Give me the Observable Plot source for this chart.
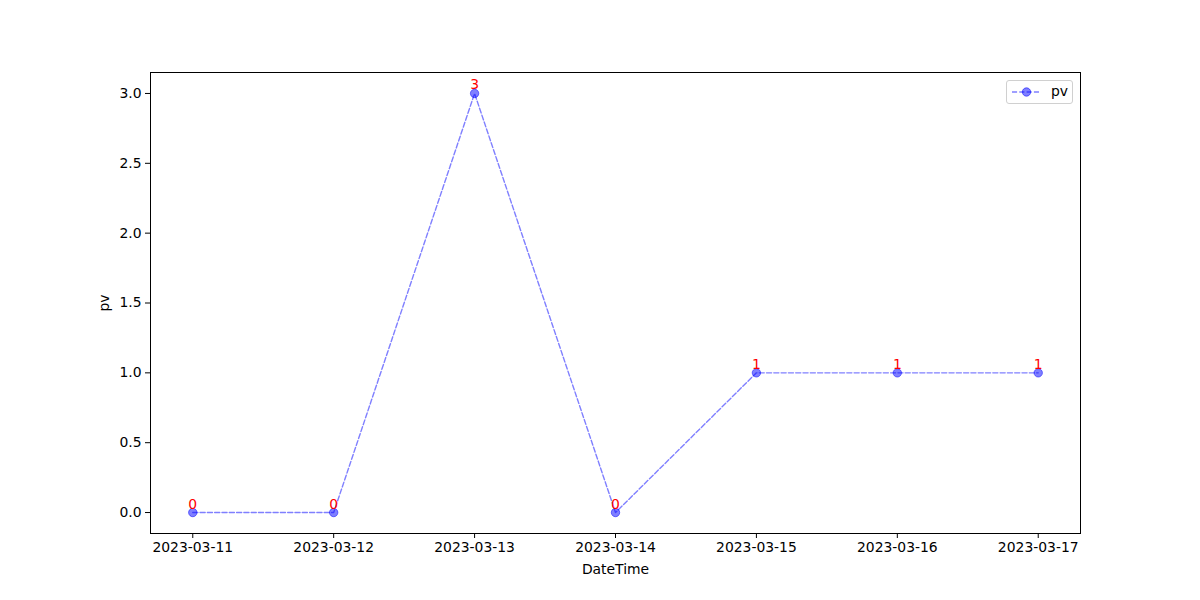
<!DOCTYPE html>
<html>
<head>
<meta charset="utf-8">
<script src="https://cdn.jsdelivr.net/npm/d3@7"></script>
<script src="https://cdn.jsdelivr.net/npm/@observablehq/plot@0.6"></script>
<style>
  html, body { margin: 0; padding: 0; background: #fff; }
  #wrap { position: relative; width: 1200px; height: 600px; font-family: "DejaVu Sans", sans-serif; }
  #legend { position: absolute; left: 1006px; top: 80px; width: 67px; height: 24px; box-sizing: border-box;
    border: 1px solid #d0d0d0; border-radius: 3px; background: rgba(255,255,255,0.8); }
  #legend svg { position: absolute; left: 0; top: 0; }
  #legend span { position: absolute; left: 44px; top: 2px; font-size: 13.9px; color: #000; }
</style>
</head>
<body>
<div id="wrap">
  <div id="chart"></div>
  <div id="legend">
    <svg width="40" height="22">
      <line x1="5" x2="34" y1="11" y2="11" stroke="blue" stroke-opacity="0.5" stroke-width="1.4" stroke-dasharray="5.1,2.2"></line>
      <circle cx="19.5" cy="11" r="4.2" fill="blue" fill-opacity="0.5" stroke="blue" stroke-opacity="0.5"></circle>
    </svg>
    <span>pv</span>
  </div>
</div>
<script>
const dates = ["2023-03-11","2023-03-12","2023-03-13","2023-03-14","2023-03-15","2023-03-16","2023-03-17"];
const pv = [0, 0, 3, 0, 1, 1, 1];
const yTicks = [0, 0.5, 1, 1.5, 2, 2.5, 3];
const seriesName = "pv";
const xLabel = "DateTime";
const yLabel = "pv";

const data = dates.map((d, i) => ({date: new Date(d + "T00:00:00Z"), pv: pv[i]}));
const t0 = data[0].date.getTime(), t1 = data[data.length - 1].date.getTime();
const pad = (t1 - t0) * 0.05;

const chart = Plot.plot({
  width: 1200,
  height: 600,
  marginLeft: 150,
  marginRight: 120,
  marginTop: 72,
  marginBottom: 67,
  style: {fontFamily: "DejaVu Sans, sans-serif", fontSize: "13.9px", color: "#000", background: "#fff"},
  x: {type: "utc", domain: [new Date(t0 - pad), new Date(t1 + pad)]},
  y: {domain: [-0.15, 3.15]},
  marks: [
    Plot.frame({stroke: "#000", strokeWidth: 1}),
    Plot.axisX({ticks: data.map(d => d.date), tickFormat: d3.utcFormat("%Y-%m-%d"), tickSize: 5, tickPadding: 4,
      label: xLabel, labelAnchor: "center", labelArrow: "none", labelOffset: 40, fontSize: "13.9px"}),
    Plot.axisY({ticks: yTicks, tickFormat: d3.format(".1f"), tickSize: 5, tickPadding: 4,
      label: yLabel, labelAnchor: "center", labelArrow: "none", labelOffset: 51, fontSize: "13.9px"}),
    Plot.line(data, {x: "date", y: "pv", stroke: "blue", strokeOpacity: 0.5, strokeWidth: 1.4, strokeDasharray: "5.1,2.2"}),
    Plot.dot(data, {x: "date", y: "pv", r: 4.2, fill: "blue", fillOpacity: 0.5, stroke: "blue", strokeOpacity: 0.5, strokeWidth: 1}),
    Plot.text(data, {x: "date", y: "pv", text: d => String(d.pv), fill: "red", fontSize: 13.9, textAnchor: "middle", lineAnchor: "bottom", dy: -4})
  ]
});
document.getElementById("chart").appendChild(chart);
</script>
</body>
</html>
